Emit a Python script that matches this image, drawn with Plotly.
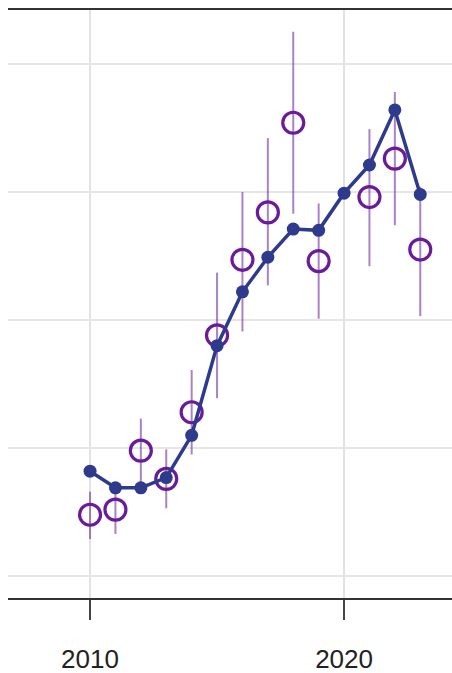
import plotly.graph_objects as go

years = list(range(2010, 2024))

# fitted / model series (filled blue line)
model_vals = [0.82, 0.69, 0.69, 0.77, 1.10, 1.80, 2.22, 2.49, 2.71, 2.70, 2.99, 3.21, 3.64, 2.98]

# observed values with upper / lower bounds (purple open circles)
obs_vals = [0.48, 0.52, 0.98, 0.76, 1.28, 1.88, 2.47, 2.84, 3.54, 2.46, None, 2.96, 3.26, 2.55]
obs_upper = [0.66, 0.70, 1.23, 0.99, 1.61, 2.37, 3.00, 3.42, 4.25, 2.91, None, 3.49, 3.78, 3.04]
obs_lower = [0.29, 0.33, 0.72, 0.53, 0.95, 1.39, 1.91, 2.27, 2.83, 2.01, None, 2.42, 2.74, 2.03]

x_ticks = [2010, 2020]
y_grid = [0, 1, 2, 3, 4]

blue = '#2e3a8c'
purple = '#6a1b9a'

err_plus = [u - v if v is not None else None for u, v in zip(obs_upper, obs_vals)]
err_minus = [v - l if v is not None else None for l, v in zip(obs_lower, obs_vals)]

fig = go.Figure()

fig.add_trace(go.Scatter(
    x=years,
    y=obs_vals,
    mode='markers',
    marker=dict(size=21, color='rgba(0,0,0,0)', line=dict(color=purple, width=3.2)),
    error_y=dict(type='data', symmetric=False, array=err_plus, arrayminus=err_minus,
                 color='rgba(112,48,160,0.6)', thickness=2, width=0),
    showlegend=False,
))

fig.add_trace(go.Scatter(
    x=years,
    y=model_vals,
    mode='lines+markers',
    line=dict(color=blue, width=3.5),
    marker=dict(size=13, color=blue),
    showlegend=False,
))

fig.update_xaxes(
    range=[2006.77, 2024.25],
    tickvals=x_ticks,
    ticktext=[str(t) for t in x_ticks],
    ticks='outside', ticklen=20, tickwidth=2, tickcolor='#444',
    ticklabelstandoff=17,
    showgrid=True, gridcolor='#e2e2e2', gridwidth=2,
    showline=True, linecolor='#333', linewidth=2, mirror=True,
    tickfont=dict(family='Liberation Sans, Arial', size=26, color='#222'),
    zeroline=False,
)
fig.update_yaxes(
    range=[-0.17, 4.42],
    tickvals=y_grid,
    showticklabels=False,
    showgrid=True, gridcolor='#e6e6e6', gridwidth=2,
    zeroline=False,
    showline=False,
)

fig.update_layout(
    width=452, height=673,
    margin=dict(l=8, r=0, t=10, b=75),
    plot_bgcolor='white',
    paper_bgcolor='white',
)

# drop the page's default body margin so the figure sits at the window origin
fig.write_html(
    "out.html",
    config={'responsive': False, 'displayModeBar': False},
    post_script="document.body.style.margin='0';document.body.style.overflow='hidden';",
)
